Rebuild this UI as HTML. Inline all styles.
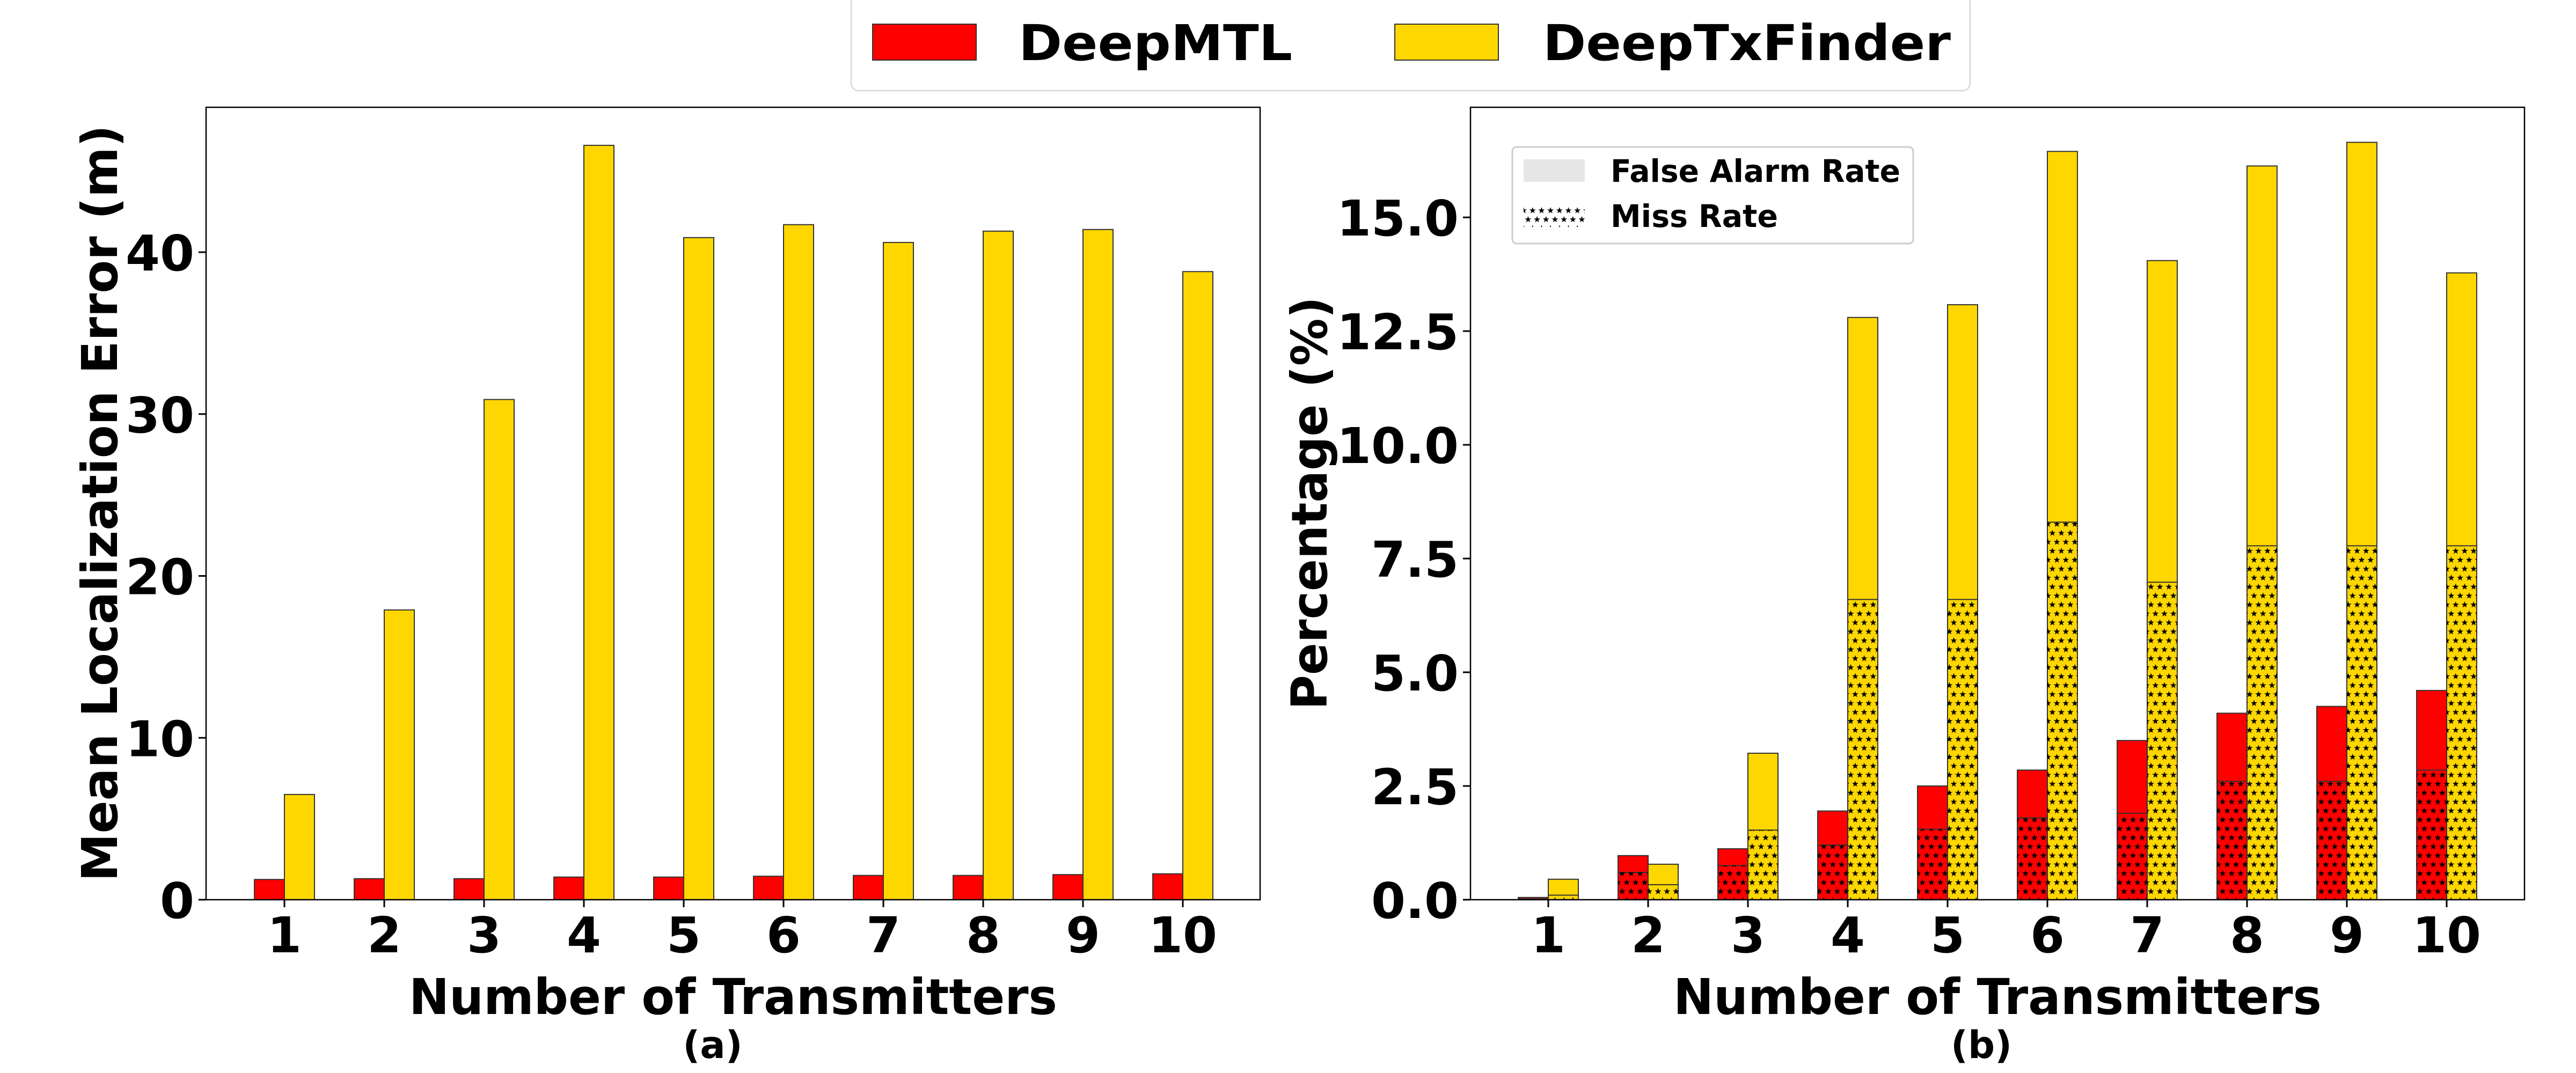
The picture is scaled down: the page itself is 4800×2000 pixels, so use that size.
<!DOCTYPE html>
<html><head><meta charset="utf-8"><style>
body{margin:0;background:#fff}
svg{display:block;font-family:"DejaVu Sans","Liberation Sans",sans-serif;font-weight:bold}
</style></head><body>
<svg id="fig" width="4800" height="2000" viewBox="0 0 4800 2000" xmlns="http://www.w3.org/2000/svg">
<defs>
<pattern id="stars" patternUnits="userSpaceOnUse" width="16.7" height="33.4">
<polygon points="8.35,2 9.9,6.3 14.4,6.4 10.8,9.1 12.1,13.5 8.35,10.9 4.6,13.5 5.9,9.1 2.3,6.4 6.8,6.3" fill="#000"/>
<polygon points="0,18.7 1.55,23 6.05,23.1 2.45,25.8 3.75,30.2 0,27.6 -3.75,30.2 -2.45,25.8 -6.05,23.1 -1.55,23" fill="#000"/>
<polygon points="16.7,18.7 18.25,23 22.75,23.1 19.15,25.8 20.45,30.2 16.7,27.6 12.95,30.2 14.25,25.8 10.65,23.1 15.15,23" fill="#000"/>
</pattern>
</defs>
<g id="legend">
<rect x="1586" y="-10" width="2085" height="179" rx="14" fill="#fff" stroke="#ddd" stroke-width="3"/>
<rect x="1626" y="45" width="193" height="67" fill="#ff0000" stroke="#333" stroke-width="2"/>
<text x="1898" y="112" font-size="92" textLength="510" lengthAdjust="spacingAndGlyphs">DeepMTL</text>
<rect x="2599" y="45" width="193" height="67" fill="#ffd700" stroke="#333" stroke-width="2"/>
<text x="2875" y="112" font-size="92" textLength="760" lengthAdjust="spacingAndGlyphs">DeepTxFinder</text>
</g>
<g id="pa"></g>
<g id="pb"></g>
</svg>
<script>
const cats=["1","2","3","4","5","6","7","8","9","10"];
const aRed=[1.25,1.3,1.3,1.4,1.4,1.45,1.5,1.5,1.55,1.6];
const aYel=[6.5,17.9,30.9,46.6,40.9,41.7,40.6,41.3,41.4,38.8];
const aTicks=[0,10,20,30,40];
const bRedTotal=[0.05,0.97,1.12,1.95,2.5,2.85,3.5,4.1,4.25,4.6];
const bRedMiss=[0.02,0.6,0.75,1.2,1.55,1.8,1.9,2.6,2.6,2.85];
const bYelTotal=[0.45,0.78,3.22,12.8,13.08,16.45,14.05,16.13,16.65,13.78];
const bYelMiss=[0.1,0.33,1.53,6.6,6.6,8.3,6.98,7.78,7.78,7.78];
const bTicks=["0.0","2.5","5.0","7.5","10.0","12.5","15.0"];
const NS="http://www.w3.org/2000/svg";
function mk(p,tag,at,txt){const e=document.createElementNS(NS,tag);for(const k in at)e.setAttribute(k,at[k]);if(txt!==undefined)e.textContent=txt;p.appendChild(e);return e;}
const TOPY=200,BOTY=1677,BW=56,SP=186;
// Panel A
(function(){
  const g=document.getElementById('pa');
  const x0=384,x1=2348,c0=530,ymax=48.95;
  const y=v=>BOTY-(v/ymax)*(BOTY-TOPY), x=i=>c0+i*SP;
  cats.forEach((c,i)=>{
    let r=mk(g,'rect',{x:x(i)-BW,y:y(aRed[i]),width:BW,height:BOTY-y(aRed[i]),fill:'#ff0000',stroke:'#333','stroke-width':2});
    
    
    let b=mk(g,'rect',{x:x(i),y:y(aYel[i]),width:BW,height:BOTY-y(aYel[i]),fill:'#ffd700',stroke:'#333','stroke-width':2});
    
    
    mk(g,'line',{x1:x(i),x2:x(i),y1:BOTY,y2:BOTY+14,stroke:'#000','stroke-width':3});
    let t=mk(g,'text',{x:x(i),y:1775,'font-size':92,'text-anchor':'middle'},c);
    
    
  });
  aTicks.forEach(v=>{
    mk(g,'line',{x1:x0-14,x2:x0,y1:y(v),y2:y(v),stroke:'#000','stroke-width':3});
    let t=mk(g,'text',{x:x0-22,y:y(v)+34,'font-size':92,'text-anchor':'end'},String(v));
    
    
  });
  let f=mk(g,'rect',{x:x0,y:TOPY,width:x1-x0,height:BOTY-TOPY,fill:'none',stroke:'#000','stroke-width':2.5});
  
  
  let yl=mk(g,'text',{x:0,y:0,'font-size':92,'text-anchor':'middle',textLength:1410,lengthAdjust:'spacingAndGlyphs',transform:'translate(218,938) rotate(-90)'},'Mean Localization Error (m)');
  
  
  let xl=mk(g,'text',{x:1366,y:1890,'font-size':92,'text-anchor':'middle',textLength:1208,lengthAdjust:'spacingAndGlyphs'},'Number of Transmitters');
  
  
  let cp=mk(g,'text',{x:1328,y:1972,'font-size':70,'text-anchor':'middle'},'(a)');
  
  
})();
// Panel B
(function(){
  const g=document.getElementById('pb');
  const x0=2740,x1=4704,c0=2885,ymax=17.42;
  const y=v=>BOTY-(v/ymax)*(BOTY-TOPY), x=i=>c0+i*SP;
  cats.forEach((c,i)=>{
    let r=mk(g,'rect',{x:x(i)-BW,y:y(bRedTotal[i]),width:BW,height:BOTY-y(bRedTotal[i]),fill:'#ff0000',stroke:'#333','stroke-width':2});
    
    
    let rm=mk(g,'rect',{x:x(i)-BW,y:y(bRedMiss[i]),width:BW,height:BOTY-y(bRedMiss[i]),fill:'#ff0000',stroke:'#333','stroke-width':2});
    
    
    mk(g,'rect',{x:x(i)-BW,y:y(bRedMiss[i]),width:BW,height:BOTY-y(bRedMiss[i]),fill:'url(#stars)'});
    let b=mk(g,'rect',{x:x(i),y:y(bYelTotal[i]),width:BW,height:BOTY-y(bYelTotal[i]),fill:'#ffd700',stroke:'#333','stroke-width':2});
    
    
    let bm=mk(g,'rect',{x:x(i),y:y(bYelMiss[i]),width:BW,height:BOTY-y(bYelMiss[i]),fill:'#ffd700',stroke:'#333','stroke-width':2});
    
    
    mk(g,'rect',{x:x(i),y:y(bYelMiss[i]),width:BW,height:BOTY-y(bYelMiss[i]),fill:'url(#stars)'});
    mk(g,'line',{x1:x(i),x2:x(i),y1:BOTY,y2:BOTY+14,stroke:'#000','stroke-width':3});
    let t=mk(g,'text',{x:x(i),y:1775,'font-size':92,'text-anchor':'middle'},c);
    
    
  });
  bTicks.forEach(s=>{
    const v=parseFloat(s);
    mk(g,'line',{x1:x0-14,x2:x0,y1:y(v),y2:y(v),stroke:'#000','stroke-width':3});
    let t=mk(g,'text',{x:x0-22,y:y(v)+34,'font-size':92,'text-anchor':'end'},s);
    
    
  });
  let f=mk(g,'rect',{x:x0,y:TOPY,width:x1-x0,height:BOTY-TOPY,fill:'none',stroke:'#000','stroke-width':2.5});
  
  
  let lg=mk(g,'g',{});
  
  
  mk(lg,'rect',{x:2818,y:274,width:747,height:180,rx:8,fill:'#fff',stroke:'#ccc','stroke-width':3});
  mk(lg,'rect',{x:2839,y:297,width:114,height:42,fill:'#e6e6e6'});
  mk(lg,'rect',{x:2839,y:381,width:114,height:42,fill:'#fff'});
  mk(lg,'rect',{x:2839,y:381,width:114,height:42,fill:'url(#stars)'});
  let l1=mk(lg,'text',{x:3001,y:339,'font-size':58,textLength:540,lengthAdjust:'spacingAndGlyphs'},'False Alarm Rate');
  
  
  let l2=mk(lg,'text',{x:3001,y:423,'font-size':58,textLength:312,lengthAdjust:'spacingAndGlyphs'},'Miss Rate');
  
  
  let yl=mk(g,'text',{x:0,y:0,'font-size':92,'text-anchor':'middle',textLength:770,lengthAdjust:'spacingAndGlyphs',transform:'translate(2472,938) rotate(-90)'},'Percentage (%)');
  
  
  let xl=mk(g,'text',{x:3722,y:1890,'font-size':92,'text-anchor':'middle',textLength:1208,lengthAdjust:'spacingAndGlyphs'},'Number of Transmitters');
  
  
  let cp=mk(g,'text',{x:3692,y:1972,'font-size':70,'text-anchor':'middle'},'(b)');
  
  
})();
</script>
</body></html>
